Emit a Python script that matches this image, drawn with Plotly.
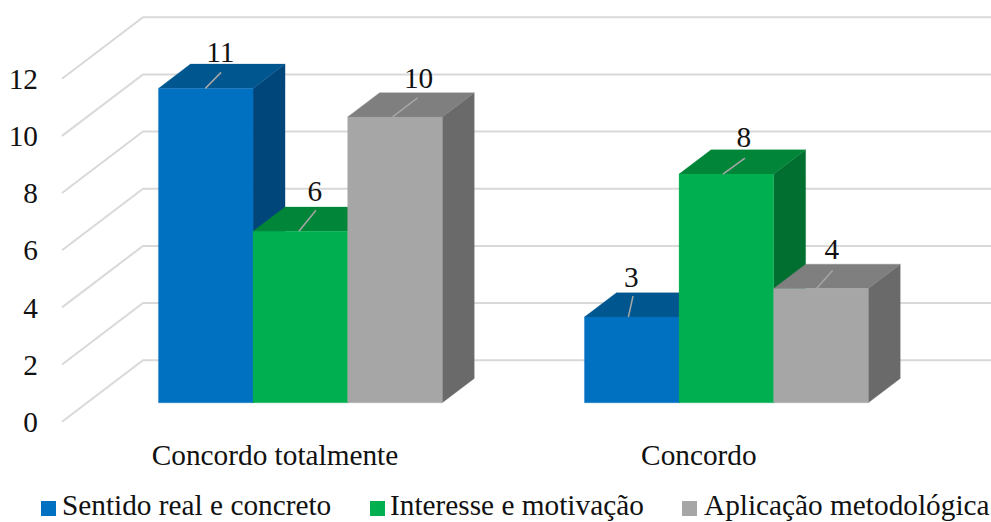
import plotly.graph_objects as go

# Chart data
categories = ["Concordo totalmente", "Concordo"]
series_names = ["Sentido real e concreto", "Interesse e motivação", "Aplicação metodológica"]
sentido = [11, 3]
interesse = [6, 8]
aplicacao = [10, 4]
value_ticks = [0, 2, 4, 6, 8, 10, 12]

# Face colours per series: front, top, side
palette = [
    ("#0070c0", "#00568f", "#00467a"),
    ("#00b050", "#008539", "#006f30"),
    ("#a6a6a6", "#7f7f7f", "#6a6a6a"),
]
GRID = "#d9d9d9"
LEADER = "#a6a6a6"
FONT = "Liberation Serif"
FS = 29.3

W, H = 991, 522
ML, MB = 55, 87
PLOT_H = H - MB
PLOT_W = W - ML

# Scale of the drawing: pixels per category and per value unit
PX_CAT = 426.0
PX_VAL = 28.58
CAT0_PX = 275.0
ZERO_PX = 421.7

# Oblique projection: one full floor depth moves right and up by these amounts
DEPTH_X = 81.0 / PX_CAT
DEPTH_Y = 61.5 / PX_VAL
BAR_D0, BAR_D1 = 0.308, 0.703
BAR_W = 94.6 / PX_CAT
PLANE_L = -213.0 / PX_CAT


def proj(x, v, d):
    return x + d * DEPTH_X, v + d * DEPTH_Y


def face(points, color):
    xs = [p[0] for p in points] + [points[0][0]]
    ys = [p[1] for p in points] + [points[0][1]]
    return go.Scatter(x=xs, y=ys, mode="lines", fill="toself", fillcolor=color,
                      line=dict(color=color, width=0.3), hoverinfo="skip", showlegend=False)


fig = go.Figure()

# Floor-and-wall gridlines: slanted on the left, horizontal along the back wall
for t in value_ticks:
    a = proj(PLANE_L, t, 0)
    b = proj(PLANE_L, t, 1)
    c = proj(PLANE_L + 2.0, t, 1)
    fig.add_trace(go.Scatter(x=[a[0], b[0], c[0]], y=[a[1], b[1], c[1]], mode="lines",
                             line=dict(color=GRID, width=2), hoverinfo="skip", showlegend=False))

# Label placement per series and category, in pixels:
# leader start shift, leader vector, then text shift from the leader's end
leader_start = [[0, -3], [-1, -3], [-2, -4]]
leader_offsets = [
    [(15.7, -16), (4.7, -21)],
    [(17, -21), (22, -16)],
    [(25, -19), (16, -18)],
]
text_shift = [
    [(-0.7, -17.5), (-1.7, -16.5)],
    [(-1, -17), (-1, -18.5)],
    [(1, -17.5), (-0.7, -18.5)],
]

# Bars, back to front in series order so each one overlaps its left neighbour
values = [sentido, interesse, aplicacao]
for s, vals in enumerate(values):
    front, top, side = palette[s]
    for c, v in enumerate(vals):
        x0 = c + (s - 1.5) * BAR_W + 0.4 / PX_CAT
        x1 = x0 + BAR_W
        fig.add_trace(face([proj(x1, 0, BAR_D0), proj(x1, 0, BAR_D1), proj(x1, v, BAR_D1), proj(x1, v, BAR_D0)], side))
        fig.add_trace(face([proj(x0, v, BAR_D0), proj(x1, v, BAR_D0), proj(x1, v, BAR_D1), proj(x0, v, BAR_D1)], top))
        fig.add_trace(face([proj(x0, 0, BAR_D0), proj(x1, 0, BAR_D0), proj(x1, v, BAR_D0), proj(x0, v, BAR_D0)], front))

# Value labels with their leader lines
for s, vals in enumerate(values):
    for c, v in enumerate(vals):
        x0 = c + (s - 1.0) * BAR_W
        sx, sy = proj(x0 + leader_start[s][c] / PX_CAT, v, BAR_D0)
        dx, dy = leader_offsets[s][c]
        ex, ey = sx + dx / PX_CAT, sy - dy / PX_VAL
        tx, ty = text_shift[s][c]
        fig.add_trace(go.Scatter(x=[sx, ex], y=[sy, ey], mode="lines",
                                 line=dict(color=LEADER, width=1.5), hoverinfo="skip", showlegend=False))
        fig.add_trace(go.Scatter(x=[ex + tx / PX_CAT], y=[ey - ty / PX_VAL], mode="text", text=[str(v)],
                                 textposition="middle center",
                                 textfont=dict(family=FONT, size=FS, color="#111111"),
                                 hoverinfo="skip", showlegend=False))

# Legend row
legend_swatch_px = [41, 370, 682]
legend_text_px = [60, 388, 701.5]
LEG_TOP, LEG_BOTTOM, LEG_MID = 501, 516, 505
shapes, annotations = [], []
for s, name in enumerate(series_names):
    shapes.append(dict(type="rect", xref="paper", yref="paper", line_width=0,
                       fillcolor=palette[s][0],
                       x0=(legend_swatch_px[s] - ML) / PLOT_W,
                       x1=(legend_swatch_px[s] + 15 - ML) / PLOT_W,
                       y0=(PLOT_H - LEG_BOTTOM) / PLOT_H,
                       y1=(PLOT_H - LEG_TOP) / PLOT_H))
    annotations.append(dict(text=name, xref="paper", yref="paper", showarrow=False,
                            x=(legend_text_px[s] - ML) / PLOT_W, y=(PLOT_H - LEG_MID) / PLOT_H,
                            xanchor="left", yanchor="middle",
                            font=dict(family=FONT, size=FS, color="#111111")))

fig.update_layout(
    width=W, height=H, autosize=False,
    margin=dict(l=ML, r=0, t=0, b=MB, pad=0),
    paper_bgcolor="white", plot_bgcolor="white",
    showlegend=False,
    shapes=shapes, annotations=annotations,
    xaxis=dict(range=[(ML - CAT0_PX) / PX_CAT, (W - CAT0_PX) / PX_CAT],
               tickmode="array", tickvals=[0, 0.995], ticktext=categories,
               showgrid=False, zeroline=False, showline=False, ticks="", ticklabelstandoff=0,
               tickfont=dict(family=FONT, size=FS, color="#111111"), fixedrange=True),
    yaxis=dict(range=[(ZERO_PX - PLOT_H) / PX_VAL, ZERO_PX / PX_VAL],
               tickmode="array", tickvals=value_ticks, ticktext=[str(t) for t in value_ticks],
               showgrid=False, zeroline=False, showline=False, ticks="", ticklabelstandoff=16,
               tickfont=dict(family=FONT, size=FS, color="#111111"), fixedrange=True),
)

fig.write_html("out.html", config={"displayModeBar": False})
